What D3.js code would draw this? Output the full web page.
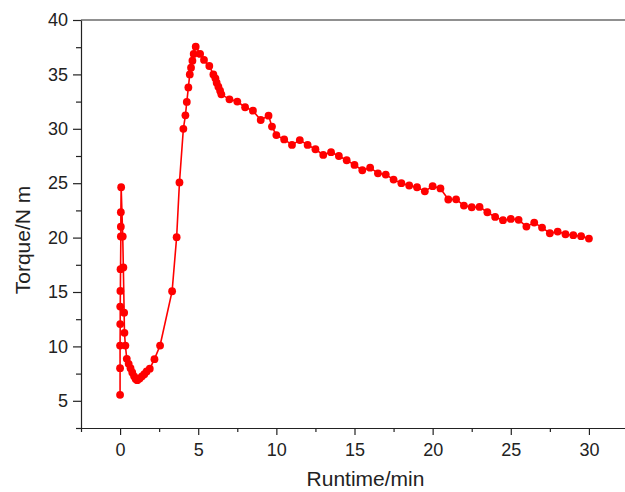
<!DOCTYPE html>
<html>
<head>
<meta charset="utf-8">
<script src="https://cdn.jsdelivr.net/npm/d3@7/dist/d3.min.js"></script>
<style>
    body { margin: 0; background: #fff; }
    text { font-family: "Liberation Sans", Arial, Helvetica, sans-serif; fill: #222; }
</style>
</head>
<body>
<div id="chart"></div>
<script>
// runtime (min) and torque (N m)
var runtime = [0, 0, 0, 0.01, 0.01, 0.02, 0.03, 0.05, 0.05, 0.05, 0.07,
    0.17, 0.21, 0.26, 0.28, 0.34, 0.43, 0.55, 0.67, 0.78, 0.9, 1.0, 1.1,
    1.25, 1.4, 1.55, 1.7, 1.9, 2.2, 2.56, 3.33, 3.62, 3.8,
    4.05, 4.18, 4.27, 4.37, 4.46, 4.54, 4.63, 4.71, 4.84,
    5.12, 5.37, 5.71, 5.97, 6.1, 6.18, 6.29, 6.4, 6.48,
    7, 7.5, 8, 8.5, 9, 9.5, 9.72, 10, 10.5, 11, 11.5, 12, 12.5, 13, 13.5,
    14, 14.5, 15, 15.5, 16, 16.5, 17, 17.5, 18, 18.5, 19, 19.5, 20, 20.5,
    21, 21.5, 22, 22.5, 23, 23.5, 24, 24.5, 25, 25.5, 26, 26.5, 27, 27.5,
    28, 28.5, 29, 29.5, 30];
var torque = [5.55, 8.0, 10.08, 12.05, 13.66, 15.1, 17.1, 20.1, 21.0, 22.33, 24.63,
    20.1, 17.25, 13.1, 11.25, 10.08, 8.86, 8.4, 8.0, 7.6, 7.25, 7.0, 6.9,
    7.05, 7.25, 7.45, 7.7, 7.95, 8.83, 10.08, 15.07, 20.04, 25.07,
    30.0, 31.24, 32.47, 33.8, 35.0, 35.62, 36.26, 36.88, 37.55,
    36.88, 36.33, 35.77, 35.0, 34.64, 34.24, 33.87, 33.5, 33.17,
    32.71, 32.5, 31.98, 31.67, 30.81, 31.21, 30.2, 29.42, 29.02, 28.52, 28.96, 28.52, 28.12, 27.6, 27.85,
    27.5, 27.11, 26.68, 26.19, 26.43, 25.91, 25.79, 25.33, 25.0, 24.79, 24.63, 24.25, 24.73, 24.52,
    23.5, 23.52, 22.94, 22.79, 22.82, 22.33, 21.9, 21.6, 21.72, 21.63, 21.01, 21.38, 20.92, 20.4,
    20.55, 20.31, 20.22, 20.13, 19.91];

var xTicks = [0, 5, 10, 15, 20, 25, 30];
var xMinor = [-2.5, 2.5, 7.5, 12.5, 17.5, 22.5, 27.5, 32.5];
var yTicks = [5, 10, 15, 20, 25, 30, 35, 40];
var yMinor = [2.5, 7.5, 12.5, 17.5, 22.5, 27.5, 32.5, 37.5];

(function() {
    var width = 625, height = 492;
    var plot = { left: 81, right: 628, top: 20, bottom: 428 };

    var svg = d3.select("#chart")
        .append("svg")
        .attr("width", width)
        .attr("height", height);

    var x = d3.scaleLinear().domain([-2.5, 32.5]).range([plot.left, plot.right]);
    var y = d3.scaleLinear().domain([2.5, 40]).range([plot.bottom, plot.top]);

    var axisColor = "#222";

    // minor ticks first, then major axes
    svg.append("g")
        .attr("transform", "translate(0," + plot.bottom + ")")
        .call(d3.axisBottom(x).tickValues(xMinor).tickSize(4).tickFormat(""))
        .call(function(g) { g.select(".domain").remove(); });
    svg.append("g")
        .attr("transform", "translate(" + plot.left + ",0)")
        .call(d3.axisLeft(y).tickValues(yMinor).tickSize(5).tickFormat(""))
        .call(function(g) { g.select(".domain").remove(); });

    var xAxis = svg.append("g")
        .attr("transform", "translate(0," + plot.bottom + ")")
        .call(d3.axisBottom(x).tickValues(xTicks).tickSizeInner(7).tickSizeOuter(0).tickPadding(8));
    xAxis.selectAll("text").attr("font-size", 18);

    var yAxis = svg.append("g")
        .attr("transform", "translate(" + plot.left + ",0)")
        .call(d3.axisLeft(y).tickValues(yTicks).tickSizeInner(8).tickSizeOuter(0).tickPadding(5));
    yAxis.selectAll("text").attr("font-size", 18);

    svg.selectAll(".domain, .tick line").attr("stroke", axisColor).attr("stroke-width", 1.2);
    svg.selectAll(".tick text").style("fill", axisColor);

    // top frame line
    svg.append("line")
        .attr("x1", plot.left).attr("x2", plot.right)
        .attr("y1", plot.top).attr("y2", plot.top)
        .attr("stroke", axisColor).attr("stroke-width", 1.2);

    var pts = runtime.map(function(t, i) { return [t, torque[i]]; });

    var line = d3.line()
        .x(function(d) { return x(d[0]); })
        .y(function(d) { return y(d[1]); });

    svg.append("path")
        .datum(pts)
        .attr("d", line)
        .attr("fill", "none")
        .attr("stroke", "#ff0000")
        .attr("stroke-width", 1.6);

    svg.selectAll(".dot")
        .data(pts)
        .enter()
        .append("circle")
        .attr("class", "dot")
        .attr("cx", function(d) { return x(d[0]); })
        .attr("cy", function(d) { return y(d[1]); })
        .attr("r", 3.9)
        .attr("fill", "#ff0000");

    svg.append("text")
        .attr("x", (x(0) + x(30)) / 2 + 11)
        .attr("y", 486)
        .attr("text-anchor", "middle")
        .attr("font-size", 21)
        .text("Runtime/min");

    svg.append("text")
        .attr("transform", "translate(30,240) rotate(-90)")
        .attr("text-anchor", "middle")
        .attr("font-size", 21)
        .text("Torque/N m");
})();
</script>
</body>
</html>
